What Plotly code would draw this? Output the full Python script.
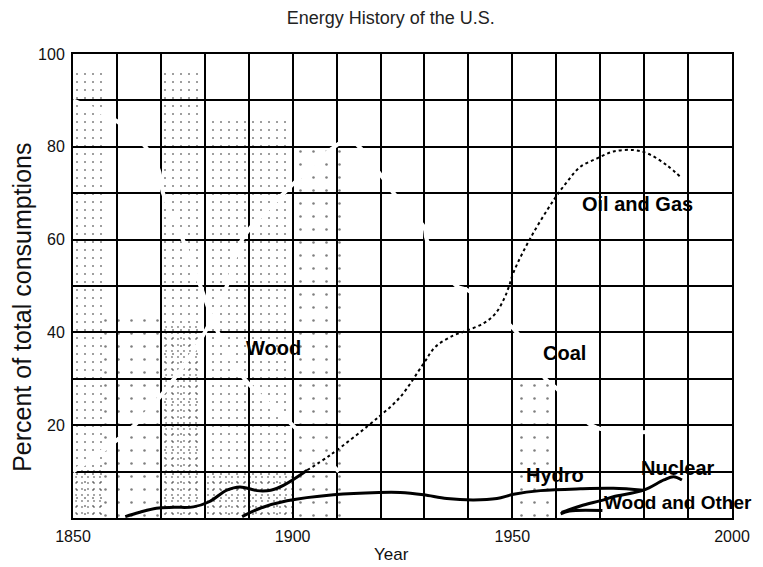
import plotly.graph_objects as go

# ---- data (percent of total consumption) ----
oil_early_year = [1861.9, 1865, 1869, 1873, 1877.4, 1881, 1885, 1888, 1891.9, 1895, 1898, 1903.3]
oil_early_pct = [0.3, 1.2, 2.1, 2.3, 2.4, 3.5, 6.0, 6.7, 5.9, 6.0, 7.1, 10.3]

oil_year = [1903.3, 1908.6, 1919.6, 1924.5, 1929.8, 1932.5, 1936.5, 1939.7, 1943.5, 1946.1, 1948.0,
            1949.2, 1950.3, 1954.1, 1959.4, 1962.5, 1965.5, 1969.3, 1973.0, 1977.6, 1980.7, 1985.2, 1988.6]
oil_pct = [10.3, 13.6, 21.8, 26.1, 33.3, 36.9, 39.3, 40.4, 42.0, 44.0, 47.0,
           49.8, 53.0, 60.3, 68.5, 72.5, 75.7, 77.5, 79.0, 79.3, 78.6, 76.0, 73.2]

hydro_year = [1888.5, 1892.6, 1898.7, 1909.3, 1919.6, 1924.5, 1929.8, 1935.1, 1941.2, 1946.5, 1950.3,
              1956.4, 1965.5, 1973.0, 1979.9]
hydro_pct = [0.3, 2.1, 3.7, 5.0, 5.5, 5.5, 5.0, 4.2, 3.9, 4.2, 5.1, 5.9, 6.3, 6.4, 6.0]

nuclear_year = [1961.2, 1965.5, 1970.8, 1973.0, 1979.9, 1984.5, 1986.7, 1988.6]
nuclear_pct = [1.2, 2.6, 3.9, 4.6, 6.0, 8.2, 8.9, 8.2]

wood_other_year = [1961.0, 1963.0, 1970.5]
wood_other_pct = [0.9, 1.5, 1.6]

# faint (white) share curves that cut the grid
wood_year = [1850, 1860, 1866.5, 1869.5, 1870.5, 1875, 1879, 1883, 1889, 1900, 1910.5]
wood_pct = [90, 85.5, 80, 75, 70, 60, 50, 40, 30, 20, 10]

coal_year = [1850, 1864, 1873, 1880, 1885, 1888.5, 1898, 1909.5, 1913, 1920, 1923, 1930, 1930.5,
             1937.3, 1940, 1951, 1957.5, 1960, 1968, 1975, 1988]
coal_pct = [10, 20, 30, 40, 50, 60, 70, 80, 81.5, 74, 70, 62.5, 60, 50, 49, 40, 30, 28, 20, 18.5, 19]

# stippled (scanned tint) regions: [x0, x1, y0, y1]
stipple_med = [[1850.5, 1857, 0, 96], [1870, 1879.5, 0, 97], [1879.5, 1900, 0, 86]]
stipple_dense = [[1850.5, 1857, 0, 11], [1871, 1879, 0, 42], [1880, 1900, 0, 10]]
stipple_light = [[1900, 1911, 0, 80], [1950, 1960, 0, 30], [1857, 1870, 0, 45]]

x_ticks = list(range(1850, 2001, 10))
x_labels = [str(v) if v % 50 == 0 else "" for v in x_ticks]
y_ticks = list(range(0, 101, 10))
y_labels = [str(v) if v % 20 == 0 and v > 0 else "" for v in y_ticks]

labels = [
    ("Oil and Gas", 1978.6, 67.7, "center", 20),
    ("Wood", 1895.7, 36.7, "center", 20),
    ("Coal", 1961.8, 35.5, "center", 20),
    ("Hydro", 1959.8, 9.3, "center", 20),
    ("Nuclear", 1987.7, 10.7, "center", 20),
    ("Wood and Other", 1970.3, 3.3, "left", 19),
]

fig = go.Figure()


def add_region(box, size, solidity):
    x0, x1, y0, y1 = box
    fig.add_trace(go.Scatter(
        x=[x0, x1, x1, x0, x0], y=[y0, y0, y1, y1, y0], mode="lines",
        line=dict(width=0), fill="toself", fillcolor="rgba(0,0,0,0)",
        fillpattern=dict(shape=".", size=size, solidity=solidity,
                         fgcolor="black", bgcolor="rgba(0,0,0,0)"),
        hoverinfo="skip", showlegend=False))


for b in stipple_light:
    add_region(b, 13, 0.03)
for b in stipple_med:
    add_region(b, 8, 0.05)
for b in stipple_dense:
    add_region(b, 6, 0.07)

for xs, ys in [(wood_year, wood_pct), (coal_year, coal_pct)]:
    fig.add_trace(go.Scatter(x=xs, y=ys, mode="lines",
                             line=dict(color="white", width=4, shape="spline"),
                             hoverinfo="skip", showlegend=False))

fig.add_trace(go.Scatter(x=oil_year, y=oil_pct, mode="lines",
                         line=dict(color="black", width=2, dash="dot", shape="spline"),
                         showlegend=False))
for xs, ys in [(oil_early_year, oil_early_pct), (hydro_year, hydro_pct),
               (nuclear_year, nuclear_pct), (wood_other_year, wood_other_pct)]:
    fig.add_trace(go.Scatter(x=xs, y=ys, mode="lines",
                             line=dict(color="black", width=3, shape="spline"),
                             showlegend=False))

for text, xv, yv, anchor, fs in labels:
    fig.add_annotation(x=xv, y=yv, text="<b>%s</b>" % text, showarrow=False,
                       font=dict(family="Liberation Sans", size=fs, color="black"),
                       xanchor=anchor, yanchor="middle")

fig.add_annotation(xref="paper", yref="paper", x=-0.0774, y=0.455,
                   text="Percent of total consumptions", textangle=-90, showarrow=False,
                   font=dict(family="Liberation Sans", size=25, color="#111"),
                   xanchor="center", yanchor="middle")
fig.add_annotation(xref="paper", yref="paper", x=0.4826, y=-0.0797, text="Year",
                   showarrow=False, font=dict(family="Liberation Sans", size=17, color="#111"),
                   xanchor="center", yanchor="middle")

axis_common = dict(showgrid=True, gridcolor="black", gridwidth=2, showline=True, mirror=True,
                   linecolor="black", linewidth=2, zeroline=False, ticks="",
                   tickfont=dict(family="Liberation Sans", size=16, color="#111"))

# page body has an 8px margin, so the figure is 8px smaller and margins shifted
fig.update_layout(
    width=755, height=559,
    margin=dict(l=65, r=31, t=46, b=49),
    paper_bgcolor="white", plot_bgcolor="white",
    title=dict(text="Energy History of the U.S.", x=0.507, xref="container", y=0.982,
               yref="container", xanchor="center", yanchor="middle",
               font=dict(family="Liberation Sans", size=18, color="#222")),
    xaxis=dict(range=[1850, 2000], tickvals=x_ticks, ticktext=x_labels,
               ticklabelstandoff=3, **axis_common),
    yaxis=dict(range=[0, 100], tickvals=y_ticks, ticktext=y_labels,
               ticklabelstandoff=3, **axis_common),
)

fig.write_html("out.html")
